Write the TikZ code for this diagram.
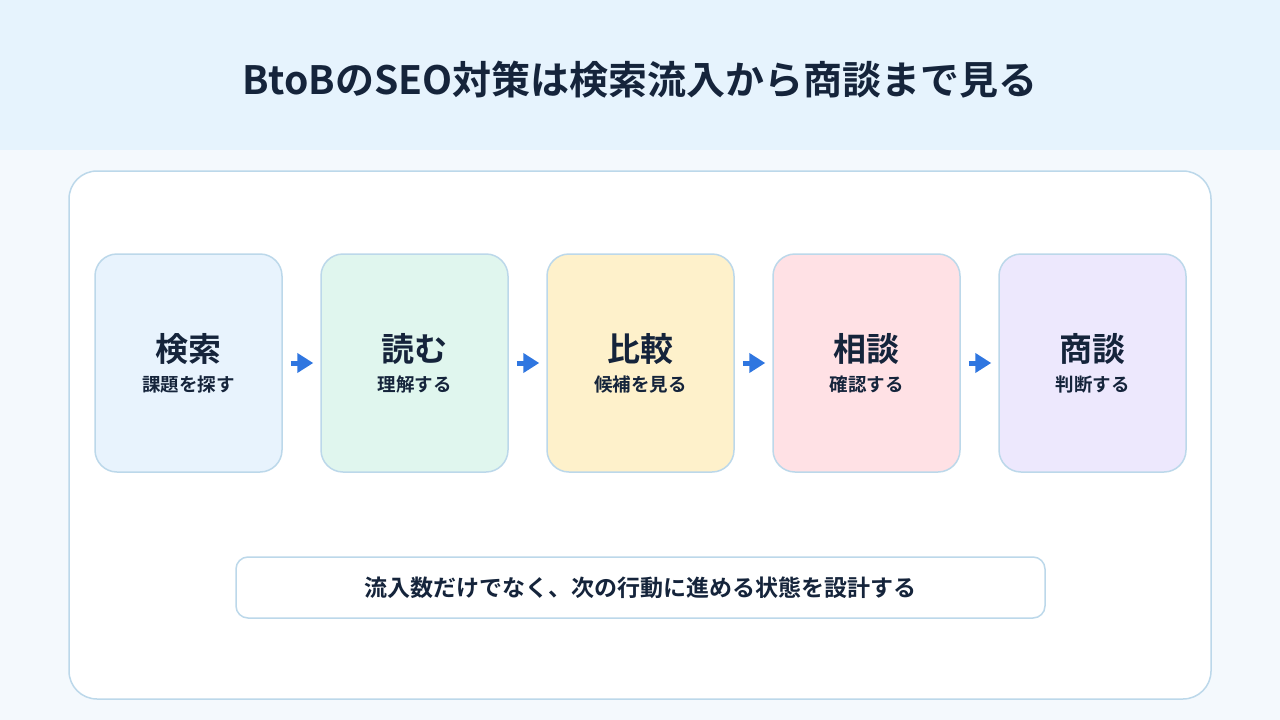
\documentclass[tikz,border=0pt]{standalone}
\usepackage{fontspec}
\setmainfont{Noto Sans CJK JP}[BoldFont={* Bold}]
\usetikzlibrary{arrows.meta}
\definecolor{hdr}{HTML}{E6F3FD}
\definecolor{bg}{HTML}{F4F9FD}
\definecolor{edge}{HTML}{BCD8EA}
\definecolor{ink}{HTML}{15243B}
\definecolor{cblue}{HTML}{E8F3FD}
\definecolor{cgreen}{HTML}{E0F6EE}
\definecolor{cyellow}{HTML}{FEF1CB}
\definecolor{cpink}{HTML}{FFE1E5}
\definecolor{cpurple}{HTML}{EDE8FD}
\definecolor{arr}{HTML}{2F76E0}
\tikzset{
  stage/.style={draw=edge, line width=1.5pt, rounded corners=22pt, minimum width=187pt, minimum height=218pt, inner sep=0pt, text=ink, align=center, font=\bfseries},
  flow/.style={draw=arr, line width=5pt, -{Triangle[length=16pt,width=19pt]}, shorten <=8pt, shorten >=7pt},
}
\newcommand{\stagetext}[2]{{\fontsize{33}{36}\selectfont #1}\\[10pt]{\fontsize{18.5}{22}\selectfont #2}}
\begin{document}
\begin{tikzpicture}[x=1pt,y=-1pt]
\useasboundingbox (0,0) rectangle (1280,720);
\fill[bg] (0,0) rectangle (1280,720);
\fill[hdr] (0,0) rectangle (1280,150);
\node[text=ink, font=\bfseries\fontsize{39}{44}\selectfont] (title) at (640,80) {BtoBのSEO対策は検索流入から商談まで見る};
\draw[edge, fill=white, line width=1.5pt, rounded corners=28pt] (69,171) rectangle (1211,699);
\node[stage, fill=cblue] (s1) at (188.5,363) {\stagetext{検索}{課題を探す}};
\node[stage, fill=cgreen] (s2) at (414.5,363) {\stagetext{読む}{理解する}};
\node[stage, fill=cyellow] (s3) at (640.5,363) {\stagetext{比較}{候補を見る}};
\node[stage, fill=cpink] (s4) at (866.5,363) {\stagetext{相談}{確認する}};
\node[stage, fill=cpurple] (s5) at (1092.5,363) {\stagetext{商談}{判断する}};
\draw[flow] (s1) -- (s2);
\draw[flow] (s2) -- (s3);
\draw[flow] (s3) -- (s4);
\draw[flow] (s4) -- (s5);
\node[draw=edge, fill=white, line width=1.5pt, rounded corners=12pt, minimum width=809pt, minimum height=61pt, text=ink, font=\bfseries\fontsize{23}{27}\selectfont] (note) at (640.5,587.5) {流入数だけでなく、次の行動に進める状態を設計する};
\end{tikzpicture}
\end{document}
